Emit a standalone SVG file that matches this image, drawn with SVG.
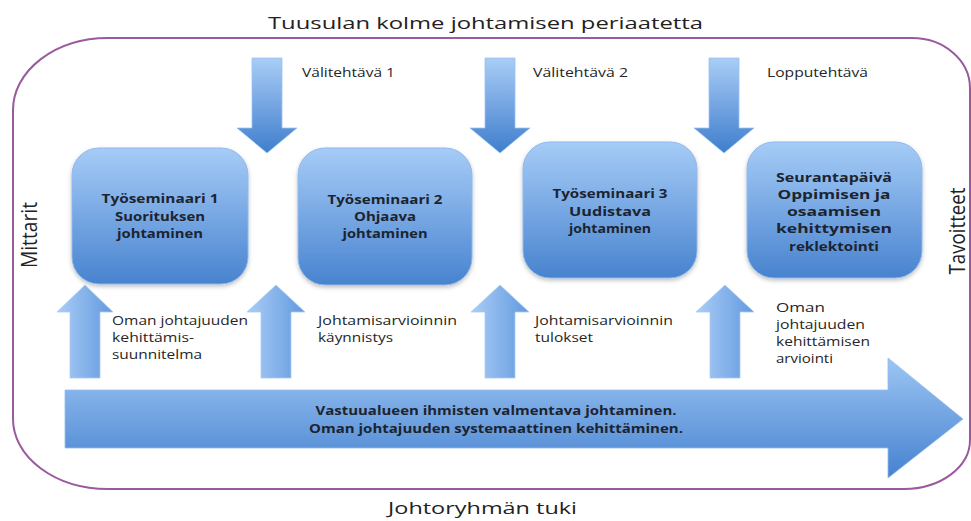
<svg xmlns="http://www.w3.org/2000/svg" width="971" height="521" viewBox="0 0 971 521">
<defs>
<style>
text{font-family:"Open Sans","Liberation Sans",sans-serif;fill:#222}
.ttl{font-size:17px}
.side{font-size:22px}
.lbl{font-size:12.5px;fill:#262626}
.bx{font-size:12.5px;font-weight:bold;text-anchor:middle;fill:#1c2430}
.big{font-size:13px;font-weight:bold;text-anchor:middle;fill:#1c2430}
.box{fill:url(#gBox);stroke:#8fb8ec;stroke-width:1;filter:url(#sh)}
.dn{fill:url(#gDn);stroke:#9cc2f0;stroke-width:0.8}
.up{fill:url(#gUp);stroke:#a9cbf3;stroke-width:0.8}
</style>
<linearGradient id="gBox" x1="0" y1="0" x2="0" y2="1">
<stop offset="0" stop-color="#a6ccf7"/>
<stop offset="1" stop-color="#4883cf"/>
</linearGradient>
<linearGradient id="gDn" x1="0" y1="0" x2="0" y2="1">
<stop offset="0" stop-color="#a9cdf6"/>
<stop offset="1" stop-color="#3f7ecd"/>
</linearGradient>
<linearGradient id="gUp" x1="0" y1="0" x2="1" y2="0">
<stop offset="0" stop-color="#aacdf6"/>
<stop offset="1" stop-color="#6299df"/>
</linearGradient>
<linearGradient id="gBig" x1="0" y1="0" x2="0" y2="1">
<stop offset="0" stop-color="#9cc5f4"/>
<stop offset="1" stop-color="#4682cf"/>
</linearGradient>
<filter id="sh" x="-10%" y="-10%" width="120%" height="125%">
<feDropShadow dx="0" dy="2" stdDeviation="2" flood-color="#000" flood-opacity="0.25"/>
</filter>
</defs>
<rect width="971" height="521" fill="#ffffff"/>

<g id="frame">
<path d="M108,38 H912 A58,50 0 0 1 970,88 V440 A66,49 0 0 1 904,489 H108 A95,70 0 0 1 13,419 V110 A95,72 0 0 1 108,38 Z" fill="none" stroke="#9a5a9c" stroke-width="2"/>
<text class="ttl" x="268" y="29" textLength="435" lengthAdjust="spacingAndGlyphs">Tuusulan kolme johtamisen periaatetta</text>
<text class="ttl" x="388" y="514" font-size="18" textLength="189" lengthAdjust="spacingAndGlyphs">Johtoryhmän tuki</text>
<text class="side" transform="translate(37,235) rotate(-90)" text-anchor="middle" textLength="66" lengthAdjust="spacingAndGlyphs">Mittarit</text>
<text class="side" transform="translate(965,231) rotate(-90)" text-anchor="middle" textLength="87" lengthAdjust="spacingAndGlyphs">Tavoitteet</text>
</g>

<g id="connectors">
<g id="down-arrows">
<path class="dn" d="M252,58 H282 V128 H297 L267,153 L237,128 H252 Z"/>
<path class="dn" d="M485,58 H515 V128 H530 L500,153 L470,128 H485 Z"/>
<path class="dn" d="M709,58 H739 V128 H754 L724,153 L694,128 H709 Z"/>
</g>
<g id="up-arrows">
<path class="up" d="M70,378 V312 H57 L85,285 L113,312 H100 V378 Z"/>
<path class="up" d="M261,378 V312 H247 L276,285 L305,312 H291 V378 Z"/>
<path class="up" d="M485,378 V312 H471 L500,285 L529,312 H515 V378 Z"/>
<path class="up" d="M710,378 V312 H696 L725,285 L754,312 H740 V378 Z"/>
</g>
<g id="labels">
<text class="lbl" x="302" y="77" textLength="93" lengthAdjust="spacingAndGlyphs">Välitehtävä 1</text>
<text class="lbl" x="533" y="77" textLength="95" lengthAdjust="spacingAndGlyphs">Välitehtävä 2</text>
<text class="lbl" x="767" y="77" textLength="101" lengthAdjust="spacingAndGlyphs">Lopputehtävä</text>

<text class="lbl" x="112" y="325" textLength="136" lengthAdjust="spacingAndGlyphs">Oman johtajuuden</text>
<text class="lbl" x="112" y="342" textLength="82" lengthAdjust="spacingAndGlyphs">kehittämis-</text>
<text class="lbl" x="112" y="359" textLength="90" lengthAdjust="spacingAndGlyphs">suunnitelma</text>

<text class="lbl" x="318" y="325" textLength="139" lengthAdjust="spacingAndGlyphs">Johtamisarvioinnin</text>
<text class="lbl" x="318" y="342" textLength="75" lengthAdjust="spacingAndGlyphs">käynnistys</text>

<text class="lbl" x="535" y="325" textLength="138" lengthAdjust="spacingAndGlyphs">Johtamisarvioinnin</text>
<text class="lbl" x="535" y="342" textLength="58" lengthAdjust="spacingAndGlyphs">tulokset</text>

<text class="lbl" x="776" y="312" textLength="49" lengthAdjust="spacingAndGlyphs">Oman</text>
<text class="lbl" x="776" y="329" textLength="89" lengthAdjust="spacingAndGlyphs">johtajuuden</text>
<text class="lbl" x="776" y="346" textLength="94" lengthAdjust="spacingAndGlyphs">kehittämisen</text>
<text class="lbl" x="776" y="363" textLength="57" lengthAdjust="spacingAndGlyphs">arviointi</text>
</g>
</g>

<g id="node-bigarrow">
<path d="M65,390 H888 V358 L963,419 L888,478 V448 H65 Z" fill="url(#gBig)" stroke="#94bdf0" stroke-width="0.8"/>
<text class="big" x="496" y="415" textLength="361" lengthAdjust="spacingAndGlyphs">Vastuualueen ihmisten valmentava johtaminen.</text>
<text class="big" x="496" y="433" textLength="374" lengthAdjust="spacingAndGlyphs">Oman johtajuuden systemaattinen kehittäminen.</text>
</g>

<g id="node-ts1">
<rect class="box" x="72" y="148" width="176" height="136" rx="27"/>
<text class="bx" x="160" y="203" textLength="117" lengthAdjust="spacingAndGlyphs">Työseminaari 1</text>
<text class="bx" x="160" y="221" textLength="90" lengthAdjust="spacingAndGlyphs">Suorituksen</text>
<text class="bx" x="160" y="238" textLength="86" lengthAdjust="spacingAndGlyphs">johtaminen</text>
</g>

<g id="node-ts2">
<rect class="box" x="298" y="148" width="174" height="137" rx="27"/>
<text class="bx" x="385" y="204" textLength="115" lengthAdjust="spacingAndGlyphs">Työseminaari 2</text>
<text class="bx" x="385" y="221" textLength="62" lengthAdjust="spacingAndGlyphs">Ohjaava</text>
<text class="bx" x="385" y="238" textLength="85" lengthAdjust="spacingAndGlyphs">johtaminen</text>
</g>

<g id="node-ts3">
<rect class="box" x="523" y="142" width="174" height="136" rx="27"/>
<text class="bx" x="610" y="198" textLength="115" lengthAdjust="spacingAndGlyphs">Työseminaari 3</text>
<text class="bx" x="610" y="216" textLength="82" lengthAdjust="spacingAndGlyphs">Uudistava</text>
<text class="bx" x="610" y="233" textLength="82" lengthAdjust="spacingAndGlyphs">johtaminen</text>
</g>

<g id="node-seuranta">
<rect class="box" x="747" y="142" width="175" height="136" rx="27"/>
<text class="bx" x="834" y="182" textLength="116" lengthAdjust="spacingAndGlyphs">Seurantapäivä</text>
<text class="bx" x="834" y="199" textLength="113" lengthAdjust="spacingAndGlyphs">Oppimisen ja</text>
<text class="bx" x="834" y="216" textLength="94" lengthAdjust="spacingAndGlyphs">osaamisen</text>
<text class="bx" x="834" y="233" textLength="116" lengthAdjust="spacingAndGlyphs">kehittymisen</text>
<text class="bx" x="834" y="251" textLength="90" lengthAdjust="spacingAndGlyphs">reklektointi</text>
</g>
</svg>
